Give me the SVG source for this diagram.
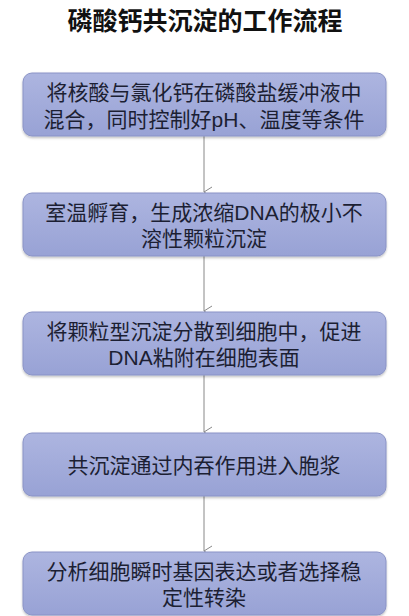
<svg xmlns="http://www.w3.org/2000/svg" width="409" height="616" viewBox="0 0 409 616">
<defs>
<linearGradient id="g" x1="0" y1="0" x2="0" y2="1">
<stop offset="0" stop-color="#adb5e0"/>
<stop offset="1" stop-color="#98a2d5"/>
</linearGradient>
<filter id="sh" x="-5%" y="-10%" width="110%" height="130%">
<feDropShadow dx="0" dy="1.5" stdDeviation="1.2" flood-color="#000" flood-opacity="0.25"/>
</filter>
<marker id="ah" markerWidth="12" markerHeight="12" refX="6" refY="9" orient="auto" markerUnits="userSpaceOnUse">
<path d="M1,1 L6,9 L11,1" fill="none" stroke="#888" stroke-width="1"/>
</marker>
</defs>
<style>
.box{fill:url(#g);stroke:#8a93c6;stroke-width:1;filter:url(#sh)}
.t{font-family:"Liberation Sans","Noto Sans CJK SC",sans-serif;font-size:21px;fill:#1c1f33;text-anchor:middle}
.title{font-family:"Liberation Sans","Noto Sans CJK SC",sans-serif;font-size:25px;font-weight:bold;fill:#111;text-anchor:middle}
.c{stroke:#888;stroke-width:1;fill:none}
</style>
<rect width="409" height="616" fill="#fff"/>
<text class="title" x="205" y="30">磷酸钙共沉淀的工作流程</text>
<g id="connectors">
<line class="c" x1="204" y1="136" x2="204" y2="192" marker-end="url(#ah)"/>
<line class="c" x1="204" y1="256" x2="204" y2="311" marker-end="url(#ah)"/>
<line class="c" x1="204" y1="375" x2="204" y2="432" marker-end="url(#ah)"/>
<line class="c" x1="204" y1="496" x2="204" y2="551" marker-end="url(#ah)"/>
</g>
<g id="n1">
<rect class="box" x="23" y="73" width="363" height="63" rx="9"/>
<text class="t" x="204" y="100">将核酸与氯化钙在磷酸盐缓冲液中<tspan x="204" dy="27">混合，同时控制好pH、温度等条件</tspan></text>
</g>
<g id="n2">
<rect class="box" x="23" y="193" width="363" height="63" rx="9"/>
<text class="t" x="204" y="220">室温孵育，生成浓缩DNA的极小不<tspan x="204" dy="26">溶性颗粒沉淀</tspan></text>
</g>
<g id="n3">
<rect class="box" x="23" y="312" width="363" height="63" rx="9"/>
<text class="t" x="204" y="339">将颗粒型沉淀分散到细胞中，促进<tspan x="204" dy="26">DNA粘附在细胞表面</tspan></text>
</g>
<g id="n4">
<rect class="box" x="23" y="433" width="363" height="63" rx="9"/>
<text class="t" x="204" y="473">共沉淀通过内吞作用进入胞浆</text>
</g>
<g id="n5">
<rect class="box" x="23" y="552" width="363" height="63" rx="9"/>
<text class="t" x="204" y="579">分析细胞瞬时基因表达或者选择稳<tspan x="204" dy="26">定性转染</tspan></text>
</g>
</svg>
